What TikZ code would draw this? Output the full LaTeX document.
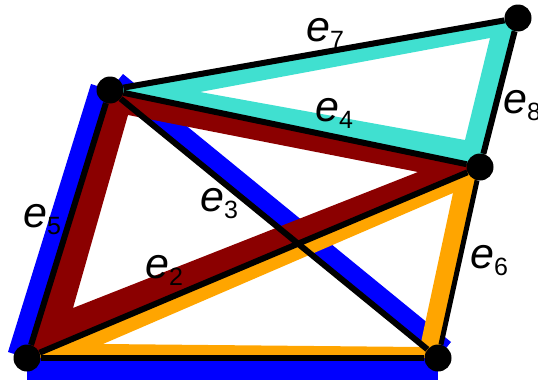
\documentclass[tikz,border=0pt]{standalone}
\usepackage{fontspec}
\setmainfont{Liberation Sans}
\definecolor{hblue}{RGB}{0,0,255}
\definecolor{hred}{RGB}{139,0,0}
\definecolor{hturq}{RGB}{64,224,208}
\definecolor{horange}{RGB}{255,165,0}
\usetikzlibrary{backgrounds}
\newcommand{\elab}[1]{\textit{e}\raisebox{-7pt}{\fontsize{25}{25}\selectfont #1}}

\begin{document}
\begin{tikzpicture}[x=1pt,y=-1pt,
    vertex/.style={circle,fill=black,inner sep=0pt,minimum size=27pt},
    edge/.style={draw=black,line width=6pt},
    elabel/.style={anchor=base west,inner sep=0pt,font=\fontsize{43}{43}\selectfont}]
  \useasboundingbox (0,0) rectangle (538,380);
  %% vertices
  \node[vertex] (A) at (27,358) {};
  \node[vertex] (B) at (110,90) {};
  \node[vertex] (C) at (480,167) {};
  \node[vertex] (D) at (518,18) {};
  \node[vertex] (E) at (438,358) {};
  %% hyperedges
  \begin{scope}[on background layer]
    \fill[hblue] (A.center) -- (B.center) -- (91,84) -- (8,352) -- cycle;
    \fill[hblue] (B.center) -- (E.center) -- (451,342) -- (123,74) -- cycle;
    \fill[hblue] (A.center) rectangle (438,380);
    \fill[hturq,even odd rule] (B.center) -- (D.center) -- (C.center) -- cycle
      (200,92) -- (490,38) -- (465,140) -- cycle;
    \fill[horange,even odd rule] (A.center) -- (C.center) -- (E.center) -- cycle
      (103,344) -- (453,193) -- (420,347) -- cycle;
    \fill[hred,even odd rule] (A.center) -- (B.center) -- (C.center) -- cycle
      (73,308) -- (128,115) -- (418,172) -- cycle;
  \end{scope}
  %% edges
  \draw[edge] (A) -- (B);
  \draw[edge] (B) -- (D);
  \draw[edge] (D) -- (C);
  \draw[edge] (B) -- (C);
  \draw[edge] (B) -- (E);
  \draw[edge] (A) -- (C);
  \draw[edge,line width=5pt] (C) -- (E);
  \draw[edge] (A) -- (E);
  %% labels
  \node[elabel] (l7) at (306,41) {\elab{7}};
  \node[elabel] (l4) at (315,121) {\elab{4}};
  \node[elabel] (l8) at (503,113) {\elab{8}};
  \node[elabel] (l5) at (23,227) {\elab{5}};
  \node[elabel] (l3) at (200,211) {\elab{3}};
  \node[elabel] (l2) at (145,278) {\elab{2}};
  \node[elabel] (l6) at (470,268) {\elab{6}};
\end{tikzpicture}
\end{document}
